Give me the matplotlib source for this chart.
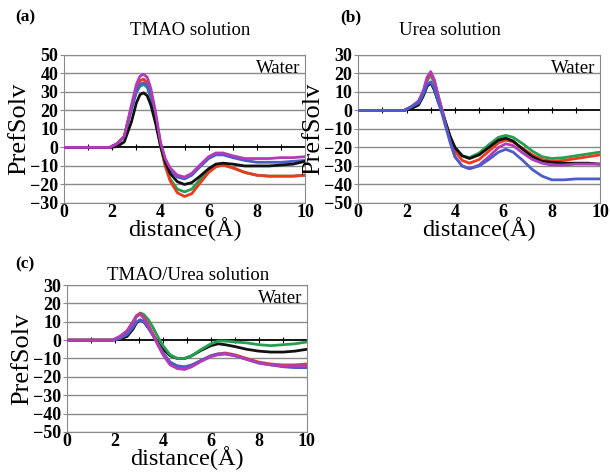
import numpy as np
import matplotlib
matplotlib.use('Agg')
import matplotlib.pyplot as plt

plt.rcParams['font.family'] = ['Liberation Serif', 'DejaVu Serif']

# (a) TMAO solution
xa = [0, 1.9, 2.2, 2.5, 2.8, 3.0, 3.15, 3.3, 3.45, 3.6, 3.8, 4.0, 4.2, 4.4,
      4.7, 5.0, 5.3, 5.6, 6.0, 6.3, 6.6, 7.0, 7.5, 8.0, 8.5, 9.0, 9.5, 10.0]
a_black = [0, 0, 0.5, 3, 14, 24, 28.5, 29.5, 28, 23, 13, 1, -8, -14, -18.5, -20,
           -19, -16, -11.5, -9, -8.5, -9, -10, -10, -10, -9.5, -9, -7.5]
a_red = [0, 0, 2, 6, 22, 32, 36, 37, 35, 29, 17, 2, -10, -18, -24.5, -26.5,
         -25, -20, -13.5, -10.5, -9.5, -11, -13.5, -15, -15.5, -15.5, -15.5, -15]
a_green = [0, 0, 2, 6, 21, 30, 33, 34, 32.5, 27, 15, 1, -10, -17, -22.5, -24,
           -22.5, -18, -12, -9.5, -9.5, -11, -13.5, -15, -15.5, -15.5, -15.5, -15]
a_blue = [0, 0, 2, 6, 21, 30, 34, 35, 33.5, 28, 16, 2, -7, -12, -16, -17,
          -15, -11, -6, -4, -4, -5.5, -7, -8, -8, -8, -7.5, -7]
a_magenta = [0, 0, 2, 6, 23, 34, 38.5, 39.5, 38, 32, 19, 3, -6, -11, -15, -16,
             -14, -10, -5, -3, -3, -4.5, -6, -6, -6, -5.5, -5.5, -5]

# (b) Urea solution
xb = [0, 1.9, 2.2, 2.5, 2.7, 2.85, 3.0, 3.15, 3.3, 3.45, 3.6, 3.8, 4.0, 4.3,
      4.6, 5.0, 5.4, 5.8, 6.1, 6.4, 6.8, 7.2, 7.6, 8.0, 8.5, 9.0, 9.5, 10.0]
b_black = [0, 0, 1, 3, 8, 13, 15, 11, 5, 0, -6, -14, -20, -24.5, -26, -24,
           -20, -16, -15, -16.5, -21, -25, -27.5, -28, -28.5, -28.5, -28.5, -29]
b_red = [0, 0, 2, 5, 10, 17, 20.5, 16, 8, 1, -6, -15, -22, -27, -28.5, -26.5,
         -22, -17.5, -16, -17, -20.5, -24, -26.5, -27.5, -27, -26, -25, -24]
b_green = [0, 0, 2, 5, 10, 16, 19, 15, 8, 1, -6, -14, -20, -24.5, -25.5, -23,
           -18.5, -14.5, -13.5, -14.5, -18, -22, -25, -26, -25.5, -24.5, -23.5, -22.5]
b_blue = [0, 0, 2, 4, 9, 14, 15.5, 12, 5, -1, -8, -17, -25, -30, -31.5, -30,
          -26.5, -22.5, -21, -22.5, -27, -32, -35.5, -37.5, -37.5, -37, -37, -37]
b_magenta = [0, 0, 2, 5, 11, 18, 21, 16.5, 8.5, 1, -7, -17, -25, -30, -31.5, -29.5,
             -25, -20, -18, -19, -23, -26.5, -28.5, -29.5, -29.5, -29, -29, -29]

# (c) TMAO/Urea solution
xc = [0, 1.9, 2.2, 2.5, 2.75, 2.9, 3.05, 3.2, 3.4, 3.6, 3.8, 4.0, 4.3, 4.6,
      4.9, 5.2, 5.6, 6.0, 6.3, 6.6, 7.0, 7.5, 8.0, 8.5, 9.0, 9.5, 10.0]
c_black = [0, 0, 0.5, 2, 6, 9.5, 11, 10, 6.5, 2.5, -1.5, -5, -8.5, -10, -10,
           -8.5, -5.5, -3, -2, -2.5, -3.5, -5, -6, -6.5, -6.5, -6, -5]
c_green = [0, 0, 1, 4, 9, 13, 14.8, 14, 11, 6.5, 1.5, -3, -8, -10, -10,
           -8.5, -5, -2, -0.5, -0.5, -1, -1.5, -2.5, -3, -2.5, -2, -1]
c_red = [0, 0, 2, 5, 10, 13.5, 14.5, 12.5, 8, 3, -2.5, -7, -12.5, -15, -15.5,
         -14, -11, -8.5, -7.5, -7, -8, -10, -12, -13, -13.5, -13.5, -13]
c_blue = [0, 0, 1, 3, 7, 10, 11, 10, 6.5, 2, -2.5, -7, -12, -14, -14.5,
          -13.5, -11, -8.5, -7.5, -7.5, -8.5, -10.5, -12.5, -13.5, -14.5, -15, -15]
c_magenta = [0, 0, 2, 5, 10, 13, 14, 12, 7.5, 2.5, -3, -8, -13.5, -15.5, -16,
             -14.5, -11.5, -9, -8, -7.5, -8.5, -10.5, -12.5, -13.5, -14, -14, -14]

colors = {'green': '#23a050', 'red': '#ec3a1e', 'blue': '#4d5ccc',
          'black': '#111111', 'magenta': '#b23cb8'}

# tag, title, x, series, ylim, axes rect, title xy, tag xy
panels = [
    ('(a)', 'TMAO solution', xa,
     {'green': a_green, 'red': a_red, 'blue': a_blue, 'black': a_black, 'magenta': a_magenta},
     (-30, 50), [0.105, 0.570, 0.395, 0.3136], (0.311, 0.936), (0.025, 0.964)),
    ('(b)', 'Urea solution', xb,
     {'green': b_green, 'red': b_red, 'black': b_black, 'magenta': b_magenta, 'blue': b_blue},
     (-50, 30), [0.587, 0.570, 0.397, 0.3136], (0.738, 0.936), (0.557, 0.964)),
    ('(c)', 'TMAO/Urea solution', xc,
     {'black': c_black, 'green': c_green, 'red': c_red, 'blue': c_blue, 'magenta': c_magenta},
     (-50, 30), [0.110, 0.085, 0.393, 0.311], (0.308, 0.417), (0.025, 0.439)),
]

fig = plt.figure(figsize=(6.1, 4.72), dpi=100)

for tag, title, x, series, ylim, rect, txy, gxy in panels:
    ax = fig.add_axes(rect)
    for y in range(ylim[0], ylim[1] + 1, 10):
        if y == 0:
            continue
        ax.axhline(y, color='#8a8a8a', lw=1.0, zorder=1)
    ax.axhline(0, color='black', lw=1.3, zorder=1)
    for name, vals in series.items():
        ax.plot(x, vals, color=colors[name], lw=2.0, zorder=3)
    ax.set_xlim(0, 10)
    ax.set_ylim(*ylim)
    ax.set_xticks(range(0, 11, 2))
    ax.set_yticks(range(ylim[0], ylim[1] + 1, 10))
    ax.tick_params(axis='x', length=0, labelsize=13, pad=1)
    ax.tick_params(axis='y', length=3, labelsize=13, pad=1, color='#8a8a8a')
    for lab in ax.get_xticklabels() + ax.get_yticklabels():
        lab.set_fontweight('bold')
    for sp in ax.spines.values():
        sp.set_color('#8a8a8a')
    # small ticks along the zero line
    sec = ax.secondary_xaxis(0, transform=ax.transData)
    sec.set_xticks(range(1, 10))
    sec.tick_params(direction='inout', length=4, width=0.8, labelbottom=False)
    sec.spines['bottom'].set_visible(False)
    ax.set_xlabel('distance(Å)', fontsize=17.5, labelpad=-3)
    ax.set_ylabel('PrefSolv', fontsize=19, labelpad=0)
    ax.text(0.98, 0.965, 'Water', transform=ax.transAxes, ha='right', va='top',
            fontsize=13.5)
    fig.text(txy[0], txy[1], title, ha='center', va='center', fontsize=13.5)
    fig.text(gxy[0], gxy[1], tag, ha='left', va='center', fontsize=12.5,
             fontweight='bold')

fig.savefig('out.png', dpi=100)
